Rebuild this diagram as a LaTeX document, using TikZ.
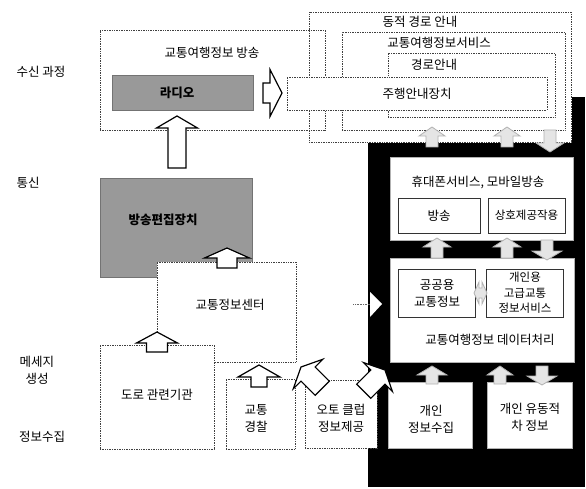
\documentclass[tikz,border=0pt]{standalone}
\usepackage{fontspec}
\newfontfamily\kr{Noto Sans CJK KR}
\begin{document}
\begin{tikzpicture}[x=1pt,y=-1pt,
  every node/.style={font=\kr\fontsize{12.5}{17}\selectfont, inner sep=0pt},
  box/.style={draw=black!75, line width=0.7pt, densely dotted, rectangle, inner sep=0pt},
  wbox/.style={box, fill=white},
  sbox/.style={draw=black!80, line width=0.6pt, rectangle, fill=white, inner sep=0pt},
  kbox/.style={draw=black!30, line width=0.4pt, rectangle, fill=white, inner sep=0pt},
  gbox/.style={draw=black!55, line width=0.5pt, fill=black!40, rectangle, inner sep=0pt},
  txt/.style={align=center},
  btxt/.style={align=center, font=\kr\bfseries\fontsize{12.5}{17}\selectfont},
  small/.style={align=center, font=\kr\fontsize{11.5}{15.5}\selectfont},
  hollow/.style={draw=black, line width=1.2pt, fill=white, line join=miter},
  light/.style={draw=black!30, line width=0.8pt, fill=black!10, line join=miter},
  pics/barrow/.style n args={4}{code={
     \path[pic actions] (0,0) -- (-#3,#4) -- (-#2,#4) -- (-#2,#1) -- (#2,#1) -- (#2,#4) -- (#3,#4) -- cycle;
  }},
]
\useasboundingbox (0,0) rectangle (586,489);

% black background region
\fill[black] (368,97) rectangle (585,487);
\fill[white] (309,12) rectangle (572,143);

% top right nested boxes
\node[box, minimum width=262pt, minimum height=130pt] (dyn) at (440,77) {};
\node[box, minimum width=223pt, minimum height=98pt] (svc) at (453.5,81) {};
\node[box, minimum width=167pt, minimum height=64pt] (route) at (471.5,85) {};
\node[txt] (tdyn) at (420,22) {동적 경로 안내};
\node[txt] (tsvc) at (439,43) {교통여행정보서비스};
\node[txt] (troute) at (434,65) {경로안내};

% broadcast box
\node[box, minimum width=225pt, minimum height=100pt] (bcast) at (212.5,80) {};
\node[txt] (tbcast) at (212,53) {교통여행정보 방송};
\node[gbox, minimum width=141pt, minimum height=35pt] (radio) at (182.5,92.5) {};
\node[btxt] (tradio) at (177,93) {라디오};
\node[wbox, minimum width=260pt, minimum height=33pt] (nav) at (417,93.5) {주행안내장치};

% left side labels
\node[txt] (l1) at (41,72) {수신 과정};
\node[txt] (l2) at (28,183) {통신};
\node[txt] (l3) at (37,370) {메세지\\생성};
\node[txt] (l4) at (42,437) {정보수집};

% broadcast editing device, traffic centre
\node[gbox, minimum width=152pt, minimum height=99pt] (edit) at (176,227.5) {};
\node[btxt] (tedit) at (163,220) {방송편집장치};
\node[wbox, minimum width=139pt, minimum height=100pt] (center) at (226.5,312) {};
\node[txt] (tcenter) at (230,305) {교통정보센터};

% collection boxes
\node[wbox, minimum width=114pt, minimum height=104pt] (road) at (157,397) {};
\node[txt] (troad) at (157,395) {도로 관련기관};
\node[wbox, minimum width=69pt, minimum height=70pt] (police) at (260.5,414) {};
\node[txt] (tpolice) at (256,418) {교통\\경찰};
\node[wbox, minimum width=72pt, minimum height=68pt] (auto) at (341,414) {};
\node[txt] (tauto) at (341,418) {오토 클럽\\정보제공};

% black region boxes
\node[kbox, minimum width=183pt, minimum height=83pt] (mobile) at (481.5,198.5) {};
\node[txt] (tmobile) at (478,182) {휴대폰서비스, 모바일방송};
\node[sbox, minimum width=82pt, minimum height=35pt] (bc2) at (439,215.5) {방송};
\node[sbox, minimum width=77pt, minimum height=35pt, small] (inter) at (526.5,215.5) {상호제공작용};

\node[kbox, minimum width=184pt, minimum height=104pt] (data) at (482,310) {};
\node[txt] (tdata) at (490,340) {교통여행정보 데이터처리};
\node[sbox, minimum width=77pt, minimum height=48pt] (pub) at (436.5,293) {};
\node[txt] (tpub) at (437,293) {공공용\\교통정보};
\node[sbox, minimum width=77pt, minimum height=48pt] (priv) at (524.5,293) {};
\node[small] (tpriv) at (525,293) {개인용\\고급교통\\정보서비스};

\node[kbox, minimum width=84pt, minimum height=66pt] (pcol) at (430,415) {};
\node[txt] (tpcol) at (431,419) {개인\\정보수집};
\node[kbox, minimum width=85pt, minimum height=66pt] (pveh) at (529.5,415) {};
\node[txt] (tpveh) at (530,417) {개인 유동적\\차 정보};

% hollow block arrows
\pic[hollow] at (177,116) {barrow={52}{9}{20.5}{12}};
\pic[hollow, rotate=-90] at (282,93) {barrow={19}{10}{23.5}{12}};
\pic[hollow] at (227,248) {barrow={20}{10}{22.5}{10}};
\pic[hollow] at (157,332) {barrow={20}{10.5}{20.5}{11}};
\pic[hollow] at (259,365) {barrow={22}{8}{21}{12}};
\pic[hollow, rotate=45] at (301,367) {barrow={30}{10}{21}{10}};
\pic[hollow, rotate=-45] at (385,370) {barrow={30}{10}{20.5}{10}};

% light arrows between dynamic box and mobile box
\pic[light] at (432,127) {barrow={20}{6}{13}{9}};
\pic[light] at (507,127) {barrow={20}{6}{13}{9}};
\pic[light, rotate=180] at (550,152) {barrow={22}{6}{14}{9}};
% between mobile and data
\pic[light] at (437,238) {barrow={20}{6}{14}{9}};
\pic[light] at (507,238) {barrow={20}{6}{14}{9}};
\pic[light, rotate=180] at (547,260) {barrow={20}{6}{15}{9}};
% between bottom boxes and data
\pic[light] at (432,366) {barrow={18}{6}{15}{9}};
\pic[light] at (500,366) {barrow={18}{6}{13}{9}};
\pic[light, rotate=180] at (542,385) {barrow={19}{6}{15}{9}};
% double arrow between public and private
\path[light] (474,293) -- (479,282) -- (479,288) -- (482,288) -- (482,282) -- (487,293) -- (482,304) -- (482,298) -- (479,298) -- (479,304) -- cycle;

% traffic centre -> data processing
\draw[black!60, densely dotted, line width=0.6pt] ([xshift=57pt, yshift=8pt]center.east) -- (370,304);
\fill[white] (370,292) -- (382,304) -- (370,317) -- cycle;
\end{tikzpicture}
\end{document}
